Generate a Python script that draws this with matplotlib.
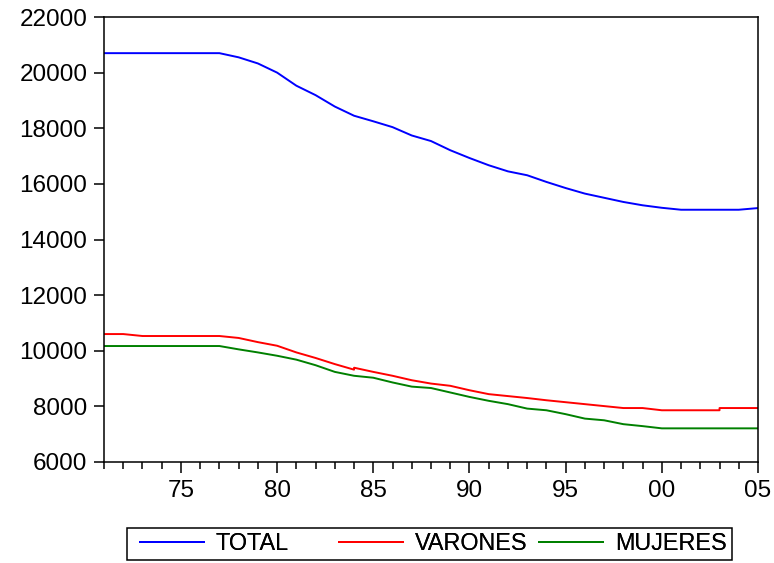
import matplotlib
matplotlib.use("Agg")
import matplotlib.pyplot as plt
from matplotlib.ticker import FixedLocator, FixedFormatter, MultipleLocator
from matplotlib.patches import Rectangle

plt.rcParams['font.family'] = ['Liberation Sans', 'DejaVu Sans']

years = list(range(1971, 2006))
total = [20700, 20700, 20700, 20700, 20700, 20700, 20700, 20550, 20330, 20000,
         19530, 19190, 18780, 18450, 18250, 18040, 17740, 17540, 17210, 16930,
         16670, 16450, 16310, 16070, 15850, 15650, 15500, 15350, 15230, 15140,
         15070, 15070, 15070, 15070, 15130]

years_varones = [1971, 1972, 1973, 1974, 1975, 1976, 1977, 1978, 1979, 1980,
                 1981, 1982, 1983, 1984, 1984, 1985, 1986, 1987, 1988, 1989,
                 1990, 1991, 1992, 1993, 1994, 1995, 1996, 1997, 1998, 1999,
                 2000, 2001, 2002, 2003, 2003, 2004, 2005]
varones = [10600, 10600, 10530, 10530, 10530, 10530, 10530, 10460, 10310, 10180,
           9940, 9740, 9520, 9320, 9390, 9240, 9100, 8940, 8820, 8740,
           8580, 8440, 8370, 8300, 8220, 8150, 8080, 8010, 7940, 7940,
           7860, 7860, 7860, 7860, 7940, 7940, 7940]

mujeres = [10170, 10170, 10170, 10170, 10170, 10170, 10170, 10050, 9940, 9820,
           9680, 9480, 9240, 9100, 9030, 8860, 8710, 8660, 8500, 8340,
           8200, 8080, 7920, 7860, 7720, 7560, 7500, 7360, 7290, 7210,
           7210, 7210, 7210, 7210, 7210]

major_years = [1975, 1980, 1985, 1990, 1995, 2000, 2005]
major_labels = ['75', '80', '85', '90', '95', '00', '05']
y_ticks = [6000, 8000, 10000, 12000, 14000, 16000, 18000, 20000, 22000]

series_names = ['TOTAL', 'VARONES', 'MUJERES']
series_colors = ['#0000ff', '#ff0000', '#008000']

fig = plt.figure(figsize=(7.74, 5.63), dpi=100)
ax = fig.add_axes([104/774, 1 - 462/563, (758 - 104)/774, (462 - 17)/563])

l1, = ax.plot(years, total, color=series_colors[0], lw=1.4, label=series_names[0])
l2, = ax.plot(years_varones, varones, color=series_colors[1], lw=1.4, label=series_names[1])
l3, = ax.plot(years, mujeres, color=series_colors[2], lw=1.4, label=series_names[2])

ax.set_xlim(1971, 2005)
ax.set_ylim(6000, 22000)
ax.yaxis.set_major_locator(FixedLocator(y_ticks))
ax.xaxis.set_major_locator(FixedLocator(major_years))
ax.xaxis.set_major_formatter(FixedFormatter(major_labels))
ax.xaxis.set_minor_locator(MultipleLocator(1))

for s in ax.spines.values():
    s.set_linewidth(1.1)
    s.set_color('black')

ax.tick_params(axis='y', which='major', direction='out', length=7, width=1.1,
               labelsize=17.5, pad=5, left=True, right=False)
ax.tick_params(axis='x', which='major', direction='out', length=8, width=1.1,
               labelsize=17.5, pad=5, top=False)
ax.tick_params(axis='x', which='minor', direction='out', length=5, width=1.1, top=False)

# Legend: three entries laid out in equal-width columns inside one frame
y_leg = 1 - 544/563
x_starts = [140/774, 339/774, 539/774]
for handle, xs in zip([l1, l2, l3], x_starts):
    lg = fig.legend(handles=[handle], loc='center left', bbox_to_anchor=(xs, y_leg),
                    frameon=False, fontsize=16.8, handlelength=2.75, handletextpad=0.5,
                    borderpad=0, borderaxespad=0)
    fig.add_artist(lg)

fig.add_artist(Rectangle((127/774, 1 - 560/563), (732 - 127)/774, 32/563,
                         transform=fig.transFigure, fill=False, lw=1.1,
                         edgecolor='black'))

fig.savefig('out.png', dpi=100)
